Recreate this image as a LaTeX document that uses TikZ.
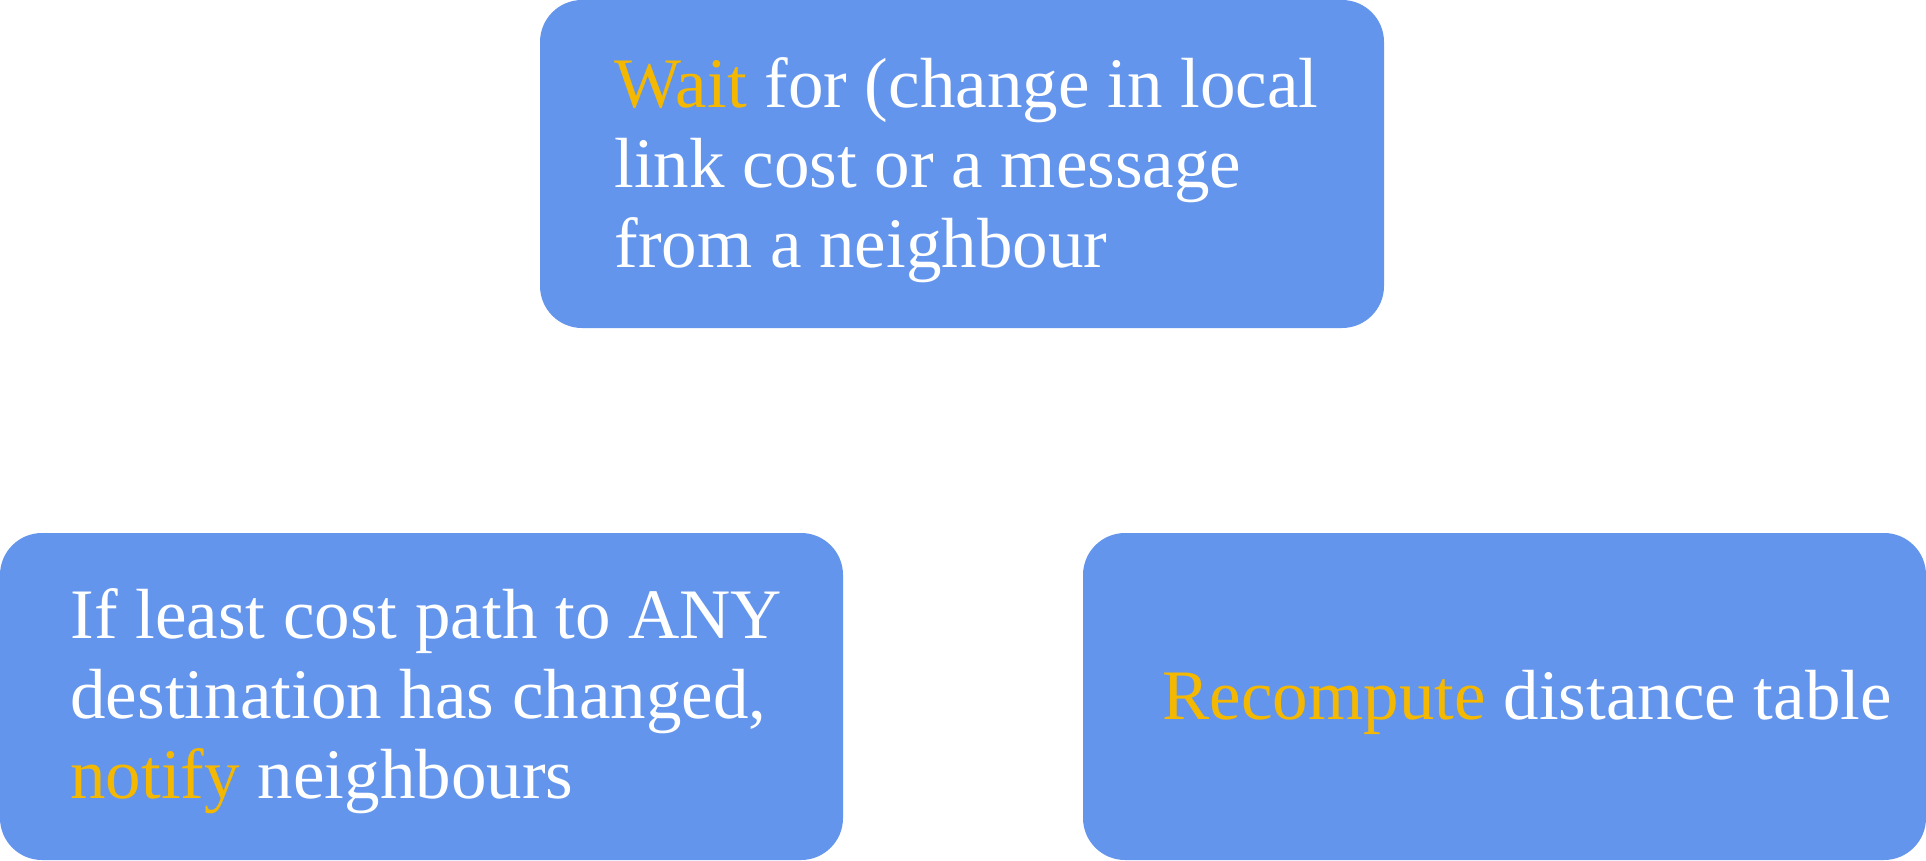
\documentclass[tikz,border=0pt]{standalone}
\usepackage{fontspec}
\setmainfont{Liberation Serif}
\usetikzlibrary{positioning}
\definecolor{boxblue}{HTML}{6495ED}
\definecolor{hilite}{HTML}{F5B800}
\newcommand{\hl}[1]{\textcolor{hilite}{#1}}
\tikzset{
  stepbox/.style={fill=boxblue,rounded corners=21pt,minimum width=421.5pt,minimum height=163.5pt,inner sep=0pt},
  steptext/.style={text=white,align=left,inner sep=0pt,font=\fontsize{35.5}{40}\selectfont}
}
\begin{document}
\begin{tikzpicture}[x=0.5pt,y=-0.5pt]
\useasboundingbox (0,0) rectangle (1926,861);
\node[stepbox,minimum width=422pt,minimum height=164pt] (wait) at (962,164) {};
\node[stepbox] (notify) at (421.5,696.5) {};
\node[stepbox] (recompute) at (1504.5,696.5) {};
% base anchor of a multi-line node sits on its last line
\node[steptext,anchor=base west] (waittext) at (614,268) {\hl{Wait} for (change in local\\link cost or a message\\from a neighbour};
\node[steptext,anchor=base west] (notifytext) at (70,798) {If least cost path to ANY\\destination has changed,\\\hl{notify} neighbours};
\node[steptext,anchor=base west] (recomputetext) at (1162,719) {\hl{Recompute} distance table};
\end{tikzpicture}
\end{document}
